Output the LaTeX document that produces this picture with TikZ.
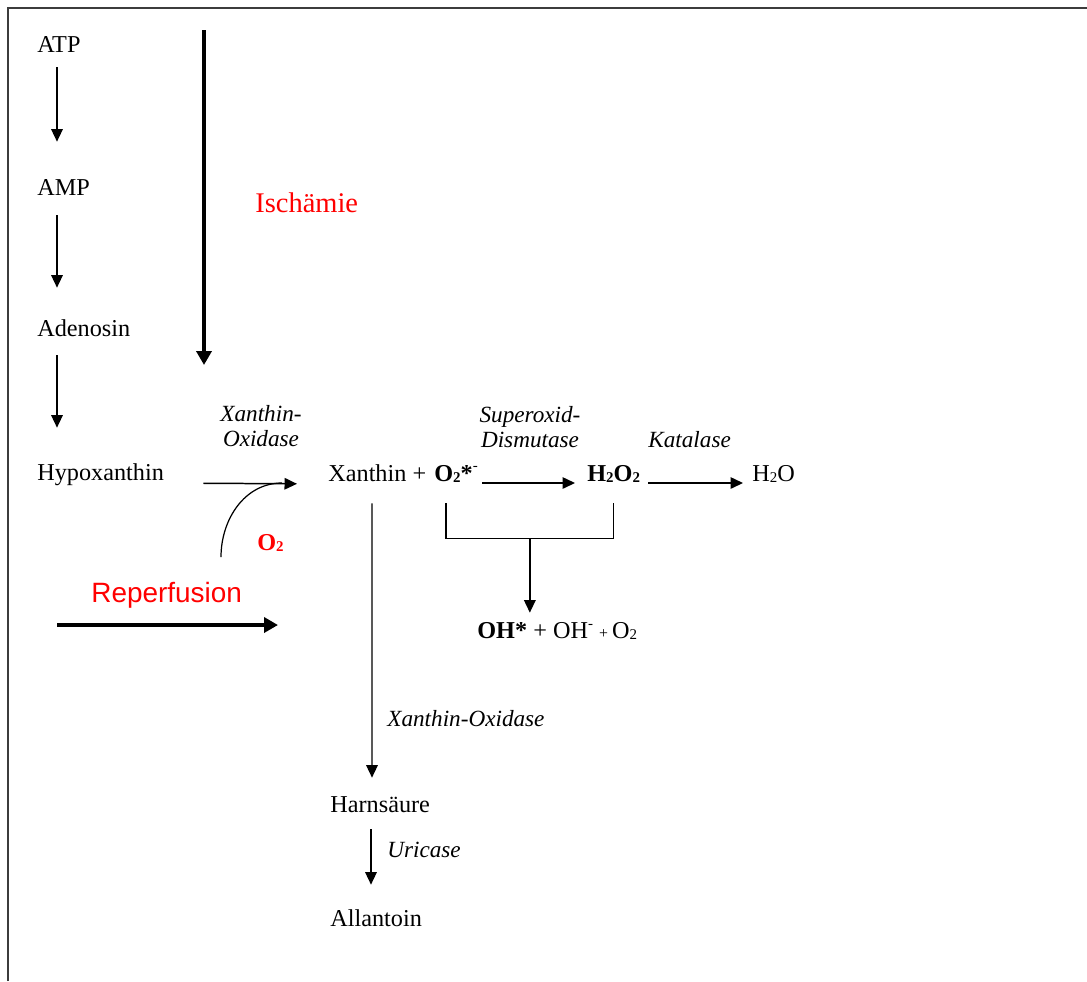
\documentclass[tikz,border=0pt]{standalone}
\usepackage{fontspec}
\setmainfont{Liberation Serif}
\newfontfamily\arialfont{Liberation Sans}
\usetikzlibrary{arrows.meta,positioning}
\definecolor{framegray}{RGB}{60,60,60}
\newcommand{\smallidx}[1]{\raisebox{-0.15ex}{\fontsize{8.5}{8.5}\selectfont #1}}
\newcommand{\smallsup}[1]{\raisebox{0.9ex}{\fontsize{8.5}{8.5}\selectfont #1}}
\tikzset{
  chem/.style={anchor=base west, inner sep=0pt, text height=0.34cm, text depth=0.1cm, font=\fontsize{13.8}{16}\selectfont},
  enzyme/.style={inner sep=0pt, align=center, font=\fontsize{13.2}{14.5}\selectfont\itshape},
  thinarr/.style={line width=0.85pt, -{Triangle[length=0.25cm,width=0.23cm]}},
  thickarr/.style={line width=2.3pt, -{Triangle[length=0.28cm,width=0.3cm]}},
}
\begin{document}
\begin{tikzpicture}[x=0.02cm, y=0.02cm]
\useasboundingbox (0,0) rectangle (1087,-981);
\draw[framegray, line width=1.1pt] (8,-981) -- (8,-8) -- (1087,-8);
\node[chem] (atp) at (37,-52) {ATP};
\node[chem] (amp) at (37,-195) {AMP};
\node[chem] (ado) at (37,-336) {Adenosin};
\node[chem] (hyp) at (37,-480) {Hypoxanthin};
\draw[thinarr, shorten <=0.2cm, shorten >=0.72cm] ([xshift=0.4cm]atp.south west) -- ([xshift=0.4cm]amp.north west);
\draw[thinarr, shorten <=0.3cm, shorten >=0.62cm] ([xshift=0.4cm]amp.south west) -- ([xshift=0.4cm]ado.north west);
\draw[thinarr, shorten <=0.28cm, shorten >=0.7cm] ([xshift=0.4cm]ado.south west) -- ([xshift=0.4cm]hyp.north west);
\coordinate (ischtop) at (204,-30);
\coordinate (ischend) at (204,-365);
\draw[thickarr] (ischtop) -- (ischend);
\node[anchor=base west, inner sep=0pt, red, font=\fontsize{16.2}{18}\selectfont] (isch) at (255,-212) {Ischämie};
\node[chem] (xan) at (328,-481) {Xanthin +};
\node[chem] (sox) at (434,-481) {\textbf{O\smallidx{2}*}\smallsup{-}};
\node[chem] (hoo) at (587,-481) {\textbf{H\smallidx{2}O\smallidx{2}}};
\node[chem] (wat) at (752,-481) {H\smallidx{2}O};
\node[chem] (ohr) at (477,-638) {\textbf{OH*} + OH\smallsup{-} {\fontsize{9}{9}\selectfont +}\,O\smallidx{2}};
\node[chem] (hrn) at (330,-812) {Harnsäure};
\node[chem] (all) at (330,-926) {Allantoin};
\node[enzyme] (xo1) at (261,-426) {Xanthin-\\Oxidase};
\node[enzyme] (sod) at (530,-427) {Superoxid-\\Dismutase};
\node[enzyme, anchor=base west] (kat) at (648,-447) {Katalase};
\node[enzyme, anchor=base west] (xo2) at (387,-726) {Xanthin-Oxidase};
\node[enzyme, anchor=base west] (uri) at (387,-857) {Uricase};
\draw[thinarr, shorten <=0.78cm, shorten >=0.62cm] ([yshift=-0.06cm]hyp.base east) -- ([yshift=-0.06cm]xan.base west);
\coordinate (o2foot) at (221,-557);
\coordinate (o2join) at (282,-483);
\draw[line width=0.7pt] (o2foot) to[out=90, in=180] (o2join);
\node[anchor=base west, inner sep=0pt, red, font=\fontsize{13.8}{16}\selectfont\bfseries] (o2) at (257,-550) {O\smallidx{2}};
\draw[thinarr, shorten <=0.08cm, shorten >=0.24cm] ([yshift=-0.04cm]sox.base east) -- ([yshift=-0.04cm]hoo.base west);
\draw[thinarr, shorten <=0.16cm, shorten >=0.18cm] ([yshift=-0.04cm]hoo.base east) -- ([yshift=-0.04cm]wat.base west);
\draw[line width=0.85pt] ([xshift=0.24cm, yshift=-0.34cm]sox.south west) -- ++(0,-35) -| node[pos=0.25, coordinate] (brmid) {} ([yshift=-0.34cm]hoo.south);
\draw[thinarr, shorten >=0.16cm] (brmid) -- (brmid |- ohr.north);
\draw[thinarr, shorten <=0.34cm, shorten >=0.34cm] ([xshift=0.88cm]xan.south west) -- ([xshift=0.84cm]hrn.north west);
\draw[thinarr, shorten <=0.24cm, shorten >=0.48cm] ([xshift=0.82cm]hrn.south west) -- ([xshift=0.82cm]all.north west);
\node[anchor=base west, inner sep=0pt, red, font=\arialfont\fontsize{15.9}{18}\selectfont] (rep) at (91,-602) {Reperfusion};
\coordinate (repstart) at (57,-625);
\coordinate (repend) at (278,-625);
\draw[thickarr] (repstart) -- (repend);
\end{tikzpicture}
\end{document}
